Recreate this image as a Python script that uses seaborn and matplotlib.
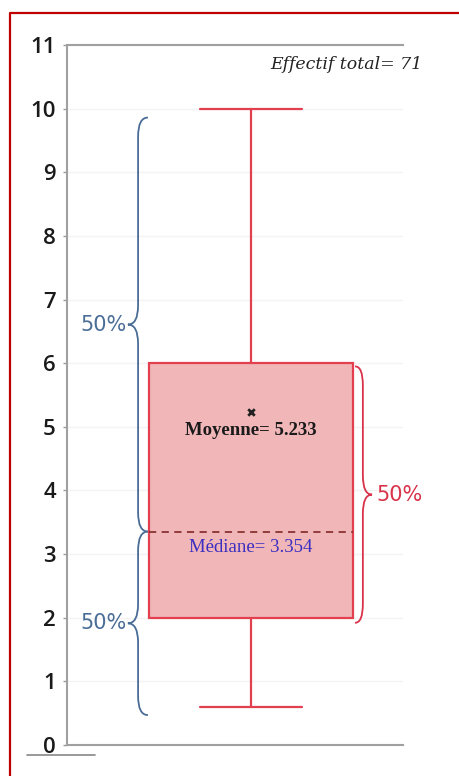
import numpy as np
import pandas as pd
import seaborn as sns
import matplotlib.pyplot as plt
from matplotlib.path import Path
from matplotlib.patches import PathPatch
from matplotlib.lines import Line2D

# résumé en 5 valeurs : min, Q1, médiane, Q3, max
summary_values = [0.6, 2.0, 3.354, 6.0, 10.0]
mean_value = 5.233
effectif = 71
yticks = list(range(0, 12))

# accolades : (bas, haut, libellé)
blue_braces = [(3.354, 9.86, "50%"), (0.47, 3.354, "50%")]
red_brace = (1.92, 5.95, "50%")

df = pd.DataFrame({"valeur": summary_values})

sns.set_style("white")
plt.rcParams['font.family'] = ['DejaVu Sans']

fig = plt.figure(figsize=(4.59, 7.76), dpi=100)
ax = fig.add_axes([67 / 459, 31 / 776, 336 / 459, 700 / 776])

box_red = "#e2404f"
sns.boxplot(data=df, y="valeur", ax=ax, width=0.6, color="#f1b6b8",
            linecolor=box_red, linewidth=1.6, whis=1.5,
            medianprops=dict(color="#8a3333", linestyle=(0, (4, 3)), linewidth=1.3),
            boxprops=dict(edgecolor=box_red, facecolor="#f1b6b8"))

ax.scatter([0], [mean_value], marker="x", s=22, color="#222222", linewidths=2, zorder=5)
ax.text(0, mean_value - 0.29, f"Moyenne= {mean_value:.3f}", ha="center", va="center",
        fontsize=13.5, fontweight="bold", family="Liberation Serif", color="#1a1a1a")
ax.text(0, summary_values[2] - 0.25, f"Médiane= {summary_values[2]:.3f}", ha="center",
        va="center", fontsize=13.5, family="Liberation Serif", color="#3a2fc0")

ax.set_xlim(-0.541, 0.447)
ax.set_ylim(0, 11)
ax.set_yticks(yticks)
ax.set_yticklabels([str(t) for t in yticks], family="Open Sans", fontweight=600)
ax.set_xticks([])
ax.set_xlabel("")
ax.set_ylabel("")
ax.tick_params(axis="y", labelsize=16, colors="#999999", labelcolor="#1a1a1a",
               length=3, width=1, direction="out", left=True, pad=5)
ax.grid(axis="y", color="#f3f3f3", linewidth=1)
for s in ["left", "bottom", "top"]:
    ax.spines[s].set_color("#a0a0a0")
    ax.spines[s].set_linewidth(1.5)
ax.spines["right"].set_visible(False)

ax.text(0.503, 10.7, f"Effectif total= {effectif}", ha="right", va="center",
        fontsize=12.5, style="italic", family="DejaVu Serif", color="#222222",
        clip_on=False)


def brace(ax, y0, y1, xv, xe, xt, r, color):
    ym = (y0 + y1) / 2
    verts = [(xe, y1), (xv, y1), (xv, y1 - r),
             (xv, ym + r), (xv, ym), (xt, ym),
             (xv, ym), (xv, ym - r),
             (xv, y0 + r), (xv, y0), (xe, y0)]
    codes = [Path.MOVETO, Path.CURVE3, Path.CURVE3,
             Path.LINETO, Path.CURVE3, Path.CURVE3,
             Path.CURVE3, Path.CURVE3,
             Path.LINETO, Path.CURVE3, Path.CURVE3]
    ax.add_patch(PathPatch(Path(verts, codes), facecolor="none", edgecolor=color,
                           linewidth=1.3, clip_on=False))
    return ym


blue = "#4a6d96"
for lo, hi, lab in blue_braces:
    ym = brace(ax, lo, hi, -0.332, -0.303, -0.362, 0.3, blue)
    ax.text(-0.367, ym, lab, ha="right", va="center", fontsize=15, color=blue)

lo, hi, lab = red_brace
ym = brace(ax, lo, hi, 0.329, 0.306, 0.356, 0.3, "#d9334b")
ax.text(0.37, ym, lab, ha="left", va="center", fontsize=15, color="#d9334b",
        clip_on=False)

# cadre rouge et trait sous l'axe
fig.add_artist(Line2D([10 / 459, 10 / 459, 1], [0, 1 - 13 / 776, 1 - 13 / 776],
                      color="#c00000", linewidth=1.6))
fig.add_artist(Line2D([27 / 459, 95 / 459], [1 - 755 / 776, 1 - 755 / 776],
                      color="#888888", linewidth=1.2))

fig.savefig("out.png", dpi=100)
